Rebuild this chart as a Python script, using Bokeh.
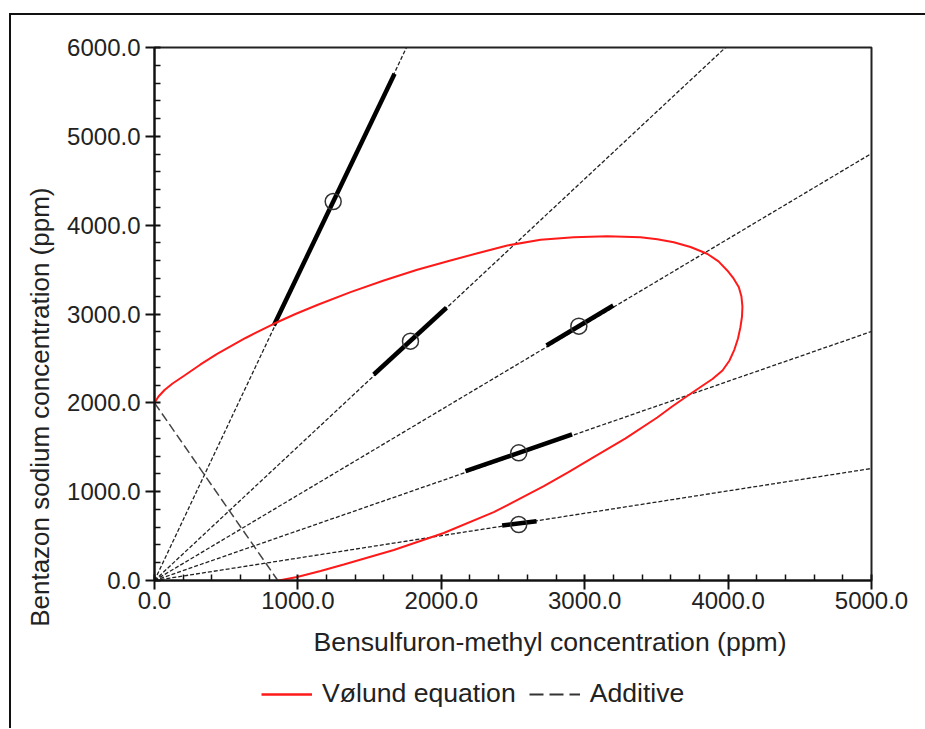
from bokeh.plotting import figure
from bokeh.models import Range1d, PrintfTickFormatter, Legend, LegendItem, FixedTicker, Title
from bokeh.layouts import column
from bokeh.embed import file_html
from bokeh.resources import INLINE

# Vølund equation isobole (Bensulfuron-methyl x, Bentazon sodium y)
vol_x = [0, 28, 70, 126, 204, 321, 437, 635, 832, 983, 1135, 1367, 1599, 1832, 2064, 2259,
         2460, 2692, 2924, 3157, 3389, 3506, 3621, 3738, 3854, 3933, 3994, 4038, 4075, 4093,
         4100, 4097, 4086, 4069, 4044, 4010, 3961, 3891, 3808, 3710, 3605, 3506, 3285, 3063,
         2887, 2715, 2366, 2017, 1669, 1320, 1158, 995, 867]
vol_y = [2000, 2071, 2145, 2218, 2302, 2432, 2552, 2730, 2890, 3000, 3101, 3246, 3377, 3498, 3602, 3687,
         3771, 3835, 3865, 3876, 3865, 3842, 3808, 3754, 3678, 3592, 3490, 3400, 3302, 3197,
         3084, 2972, 2852, 2724, 2600, 2477, 2364, 2268, 2178, 2071, 1953, 1835, 1599, 1390,
         1221, 1062, 769, 535, 343, 180, 107, 39, 0]

# Additive isobole
add_x = [0, 860]
add_y = [2000, 0]

# Mixture rays (from origin to plot edge)
ray_end_x = [1757, 3982, 5000, 5000, 5000]
ray_end_y = [6000, 6000, 4807, 2803, 1261]

# Mixture ED50 points
mix_x = [1246, 1785, 2959, 2540, 2540]
mix_y = [4266, 2694, 2863, 1437, 630]

# Confidence intervals along rays
ci_lo_x = [832, 1529, 2734, 2169, 2424]
ci_lo_y = [2871, 2319, 2645, 1231, 619]
ci_hi_x = [1674, 2036, 3199, 2912, 2664]
ci_hi_y = [5704, 3070, 3096, 1644, 668]

x_ticks = [0, 1000, 2000, 3000, 4000, 5000]
y_ticks = [0, 1000, 2000, 3000, 4000, 5000, 6000]

x_label = "Bensulfuron-methyl concentration (ppm)"
y_label = "Bentazon sodium concentration (ppm)"
legend_labels = ["Vølund equation", "Additive"]

FONT = "Liberation Sans"
INK = "#222222"
RED = "#ff1a1a"

p = figure(width=914, height=663, output_backend="svg", toolbar_location=None,
           x_range=Range1d(0, 5000), y_range=Range1d(0, 6000),
           min_border_left=143, min_border_right=54, min_border_top=32, min_border_bottom=98)
p.grid.visible = False
p.outline_line_color = "#222222"
p.outline_line_width = 2
p.background_fill_color = "white"
p.border_fill_color = "white"

for ax, ticks in ((p.xaxis[0], x_ticks), (p.yaxis[0], y_ticks)):
    step = ticks[1] - ticks[0]
    ax.ticker = FixedTicker(ticks=ticks,
                            minor_ticks=[t + k * step / 5 for t in ticks[:-1] for k in range(1, 5)])
    ax.formatter = PrintfTickFormatter(format="%.1f")
    ax.axis_line_width = 2
    ax.axis_line_color = "#111111"
    ax.major_tick_line_width = 2
    ax.major_tick_line_color = "#111111"
    ax.minor_tick_line_width = 1.5
    ax.minor_tick_line_color = "#111111"
    ax.major_tick_out = 9
    ax.major_tick_in = 6
    ax.minor_tick_out = 0
    ax.minor_tick_in = 6
    ax.major_label_text_font = FONT
    ax.major_label_text_font_size = "24px"
    ax.major_label_text_color = INK

p.xaxis.major_label_standoff = 2
p.yaxis.major_label_standoff = 5

# axis titles (offset from centre as in the reference)
p.add_layout(Title(text=x_label, align="left", offset=159, standoff=26,
                   text_font=FONT, text_font_size="26.6px", text_font_style="normal",
                   text_color=INK), "below")
p.add_layout(Title(text=y_label, align="right", offset=140, standoff=20,
                   text_font=FONT, text_font_size="26px", text_font_style="normal",
                   text_color=INK), "left")

# rays from origin
p.multi_line(xs=[[0, ex] for ex in ray_end_x], ys=[[0, ey] for ey in ray_end_y],
             line_color="#222222", line_width=1.3, line_dash="4 2")

# additive line
p.line(add_x, add_y, line_color="#444444", line_width=1.5, line_dash="9 4")

# confidence interval segments
p.segment(x0=ci_lo_x, y0=ci_lo_y, x1=ci_hi_x, y1=ci_hi_y, line_color="black", line_width=4.5)

# ED50 points
p.scatter(mix_x, mix_y, marker="circle", size=16, fill_color=None,
          line_color="#333333", line_width=1.5)

# Vølund isobole
p.line(vol_x, vol_y, line_color=RED, line_width=2)

# legend strip below the chart (proxy renderers lie outside its visible range)
leg = figure(width=914, height=50, output_backend="svg", toolbar_location=None,
             x_axis_type=None, y_axis_type=None, x_range=Range1d(0, 1), y_range=Range1d(0, 1),
             min_border=0, min_border_left=0, min_border_right=0, min_border_top=0, min_border_bottom=0)
leg.grid.visible = False
leg.outline_line_color = None
leg.background_fill_color = "white"
leg.border_fill_color = "white"
r_vol = leg.line(x=[-5, -4], y=[-5, -4], line_color=RED, line_width=2.5)
r_add = leg.line(x=[-5, -4], y=[-5, -4], line_color="#333333", line_width=2, line_dash="14 6")
legend = Legend(items=[LegendItem(label=legend_labels[0], renderers=[r_vol]),
                       LegendItem(label=legend_labels[1], renderers=[r_add])],
                location=(107, 19), orientation="horizontal",
                label_text_font=FONT, label_text_font_size="26.6px", label_text_color=INK,
                glyph_width=51, glyph_height=24, label_standoff=10, spacing=13,
                padding=0, margin=0, border_line_alpha=0, background_fill_alpha=0)
leg.add_layout(legend, "center")

layout = column(p, leg, spacing=0)
layout.styles = {"margin-top": "13px", "margin-left": "9px",
                 "border-top": "2px solid #111111", "border-left": "2px solid #111111"}

open("out.html", "w").write(file_html(layout, INLINE))
